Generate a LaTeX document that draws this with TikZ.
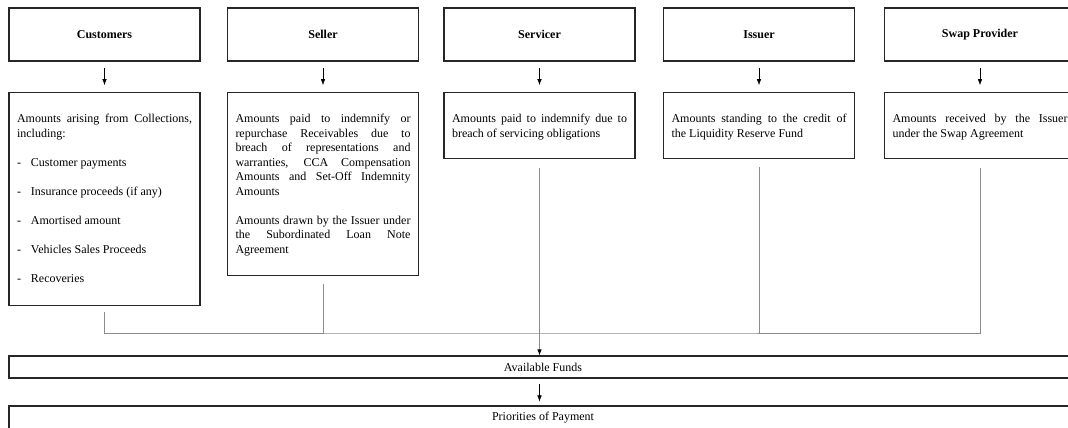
\documentclass[tikz,border=0pt]{standalone}
\usepackage{fontspec}
\setmainfont{Liberation Serif}
\usetikzlibrary{arrows.meta}
\tolerance=10000 \hbadness=10000

\begin{document}
\begin{tikzpicture}[x=1pt,y=-1pt,>={Latex[length=6pt,width=4.5pt]},font=\fontsize{12}{14.5}\selectfont]
  \tikzstyle{party}=[draw=black!85,line width=1.1pt,minimum width=191pt,minimum height=53pt,font=\fontsize{12}{14.5}\selectfont\bfseries]
  \tikzstyle{fund}=[draw=black!85,line width=1.1pt,anchor=north,text width=175pt,align=justify,inner xsep=8pt,inner ysep=0pt,text height=30pt]
  \tikzstyle{band}=[draw=black!85,line width=1.1pt,minimum width=1068pt]
  \tikzstyle{link}=[draw=black!45,line width=0.9pt]
  \def\ty{34.5}	% centre line of party boxes
  \def\fy{92}	% top of fund boxes
  \def\by{333}	% collecting line
  \newcommand\bul[1]{\makebox[14pt][l]{-}#1}
  \clip (0,0) rectangle (1068,428);
  % parties
  \node[party] (cust) at (104.5,\ty) {Customers};
  \node[party] (sell) at (323,\ty) {Seller};
  \node[party] (serv) at (539.5,\ty) {Servicer};
  \node[party] (iss) at (759,\ty) {Issuer};
  \node[party] (swap) at (980,\ty) {Swap Provider};
  % amounts
  \node[fund,text depth=183pt] (cust-fund) at (104.5,\fy) {Amounts arising from Collections,\linebreak including:\\[14.5pt]
    \bul{Customer payments}\\[14.5pt]
    \bul{Insurance proceeds (if any)}\\[14.5pt]
    \bul{Amortised amount}\\[14.5pt]
    \bul{Vehicles Sales Proceeds}\\[14.5pt]
    \bul{Recoveries}};
  \node[fund,text depth=153pt] (sell-fund) at (323,\fy) {Amounts paid to indemnify or\linebreak
    repurchase Receivables due to\linebreak breach of representations and\linebreak
    warranties, CCA Compensation\linebreak Amounts and Set-Off Indemnity\linebreak Amounts\\[14.5pt]
    Amounts drawn by the Issuer under\linebreak the Subordinated Loan Note\linebreak Agreement};
  \node[fund,text depth=36pt] (serv-fund) at (539.5,\fy) {Amounts paid to indemnify due to\linebreak breach of servicing obligations};
  \node[fund,text depth=36pt] (iss-fund) at (759,\fy) {Amounts standing to the credit of\linebreak the Liquidity Reserve Fund};
  \node[fund,text depth=36pt] (swap-fund) at (980,\fy) {Amounts received by the Issuer\linebreak under the Swap Agreement};
  % waterfall
  \node[band,minimum height=22pt] (avail) at (543,367) {Available Funds};
  \node[band,minimum height=24pt] (prio) at (543,418) {Priorities of Payment};
  \foreach \p in {cust,sell,serv,iss,swap}
    \draw[->,shorten <=6pt,shorten >=7pt] (\p) -- (\p-fund);
  \coordinate (bus) at (539.5,\by);
  \draw[link,shorten <=6pt,shorten >=9pt] (cust-fund.south) |- (bus) -| (swap-fund.south);
  \foreach \p in {sell,iss}
    \draw[link,shorten <=8pt] (\p-fund.south) -- (\p-fund.south |- bus);
  \draw[link,-{Latex[length=6pt,width=4.5pt,color=black]},shorten <=9pt] (serv-fund.south) -- (serv-fund.south |- avail.north);
  \draw[->,shorten <=5pt,shorten >=4pt] (avail.south -| serv-fund.south) -- (prio.north -| serv-fund.south);
\end{tikzpicture}
\end{document}
